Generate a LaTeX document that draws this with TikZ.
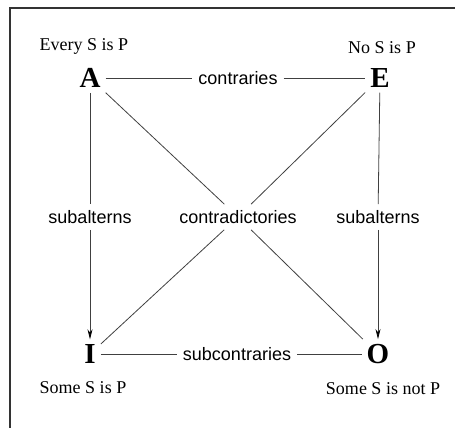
\documentclass[tikz,border=0pt]{standalone}
\usepackage{fontspec}
\setmainfont{Liberation Serif}
\setsansfont{Liberation Sans}
\usetikzlibrary{arrows.meta, positioning}

\begin{document}
\begin{tikzpicture}[
  x=1pt, y=1pt,
  node distance=14pt,
  corner/.style={inner sep=5pt, font=\fontsize{29}{32}\selectfont\bfseries},
  stmt/.style={inner sep=0pt, font=\fontsize{18}{20}\selectfont},
  rel/.style={inner sep=6pt, font=\fontsize{18}{20}\selectfont\sffamily},
  ln/.style={black!75, line width=0.8pt},
  arr/.style={ln, -{Stealth[length=10pt, width=5pt, black]}}
]
\useasboundingbox (0,0) rectangle (455,428);

% frame
\draw[black!80, line width=2pt] (10,0) -- (10,420) -- (455,420);

% corners of the square
\node[corner] (A) at (90,350) {A};
\node[corner] (E) at (380,350) {E};
\node[corner] (I) at (90,74)  {I};
\node[corner] (O) at (378,74) {O};

% statements
\node[stmt, above=9pt of A, xshift=-6pt] (every) {Every S is P};
\node[stmt, above=9pt of E, xshift=2pt]  (no)    {No S is P};
\node[stmt, below=13pt of I, xshift=-7pt] (some)  {Some S is P};
\node[stmt, below=13pt of O, xshift=5pt]  (somenot) {Some S is not P};

% relations
\node[rel] (contr)    at (238,350) {contraries};
\node[rel] (subcontr) at (237,74)  {subcontraries};
\node[rel] (subl)     at (90,211)  {subalterns};
\node[rel] (subr)     at (378,211) {subalterns};
\node[rel] (contrad)  at (238,211) {contradictories};

% lines
\draw[ln]  (A) -- (contr) -- (E);
\draw[ln]  (I) -- (subcontr) -- (O);
\draw[ln]  (A) -- (subl);
\draw[arr] (subl) -- (I);
\draw[ln]  (E) -- (subr);
\draw[arr] (subr) -- (O);
\draw[ln]  (A) -- (contrad) -- (O);
\draw[ln]  (E) -- (contrad) -- (I);

\end{tikzpicture}
\end{document}
